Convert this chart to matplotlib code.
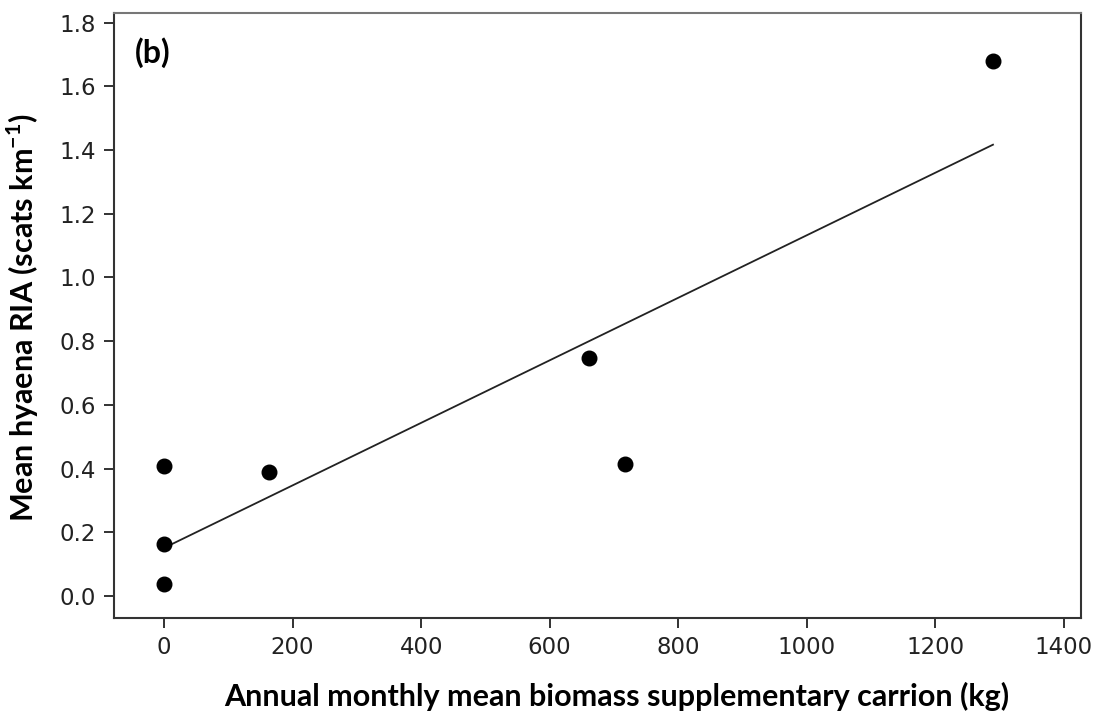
import numpy as np
import matplotlib
matplotlib.use("Agg")
import matplotlib.pyplot as plt

# Data
carrion_kg = [0, 0, 0, 163, 662, 718, 1290]
hyaena_ria = [0.037, 0.162, 0.408, 0.389, 0.747, 0.414, 1.68]
x_ticks = [0, 200, 400, 600, 800, 1000, 1200, 1400]
y_ticks = [0.0, 0.2, 0.4, 0.6, 0.8, 1.0, 1.2, 1.4, 1.6, 1.8]

fig = plt.figure(figsize=(10.96, 7.15), dpi=100)
ax = fig.add_axes([114/1096, 1-618/715, (1081-114)/1096, (618-13)/715])

ax.scatter(carrion_kg, hyaena_ria, s=110, color="black", zorder=3)

slope, intercept = np.polyfit(carrion_kg, hyaena_ria, 1)
xl = np.array([min(carrion_kg), max(carrion_kg)])
ax.plot(xl, intercept + slope * xl, color="#222222", lw=1.3, zorder=2)

ax.set_xlim(-78, 1427)
ax.set_ylim(-0.069, 1.83)
ax.set_xticks(x_ticks)
ax.set_yticks(y_ticks)
ax.set_xticklabels([str(v) for v in x_ticks], family="DejaVu Sans")
ax.set_yticklabels([f"{v:.1f}" for v in y_ticks], family="DejaVu Sans")

ax.tick_params(direction="out", length=7, width=1.3, labelsize=16.5,
               colors="#222222", pad=6)
for sp in ax.spines.values():
    sp.set_linewidth(1.5)
    sp.set_color("#333333")
ax.spines["top"].set_color("#777777")

ax.set_xlabel("Annual monthly mean biomass supplementary carrion (kg)",
              fontsize=22, fontweight="bold", family="Lato")
ax.xaxis.set_label_coords(0.520, -0.105)
ax.set_ylabel("Mean hyaena RIA (scats km$^{\\mathregular{-1}}$)",
              fontsize=22, fontweight="bold", family="Lato")
ax.yaxis.set_label_coords(-0.075, 0.497)

ax.text(0.022, 0.96, "(b)", transform=ax.transAxes, fontsize=23,
        fontweight="bold", family="Lato", va="top", ha="left")

fig.savefig("out.png", dpi=100, facecolor="white")
